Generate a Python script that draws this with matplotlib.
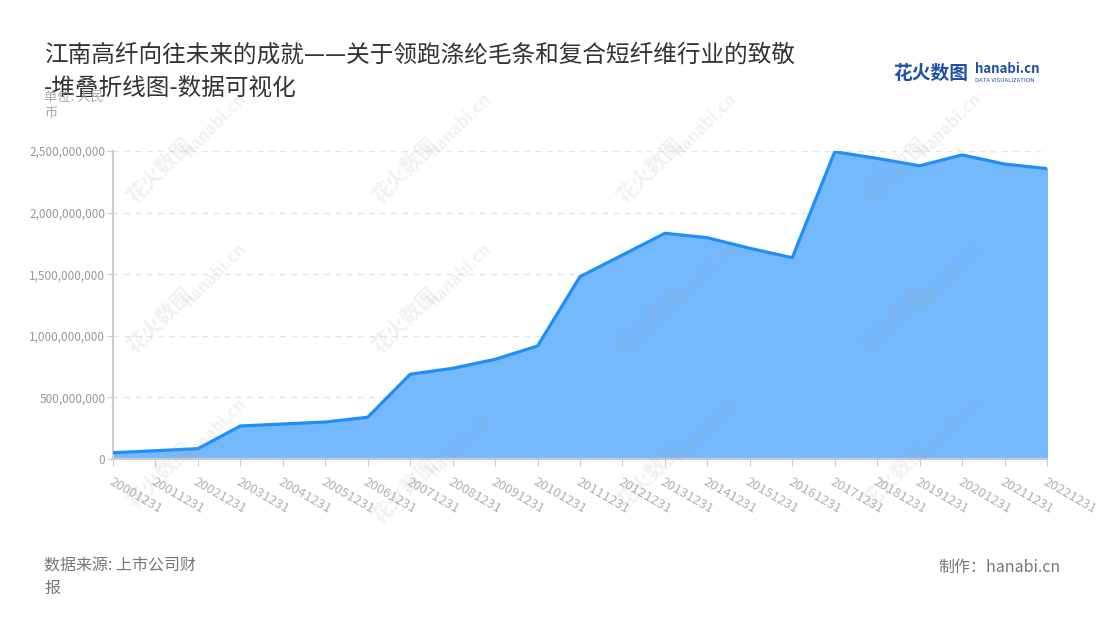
import matplotlib.pyplot as plt
import matplotlib.ticker as mticker
import numpy as np

plt.rcParams['font.family'] = ['Noto Sans CJK SC', 'DejaVu Sans']

years = ['20001231', '20011231', '20021231', '20031231', '20041231', '20051231',
         '20061231', '20071231', '20081231', '20091231', '20101231', '20111231',
         '20121231', '20131231', '20141231', '20151231', '20161231', '20171231',
         '20181231', '20191231', '20201231', '20211231', '20221231']
revenue = [51e6, 67e6, 84e6, 268e6, 284e6, 300e6, 339e6, 688e6, 736e6, 809e6,
           917e6, 1480e6, 1656e6, 1832e6, 1796e6, 1710e6, 1634e6, 2494e6,
           2440e6, 2380e6, 2468e6, 2394e6, 2357e6]
yticks = [0, 500e6, 1000e6, 1500e6, 2000e6, 2500e6]

fig = plt.figure(figsize=(11, 6.2), dpi=100)
ax = fig.add_axes([113/1100, 1-459/620, (1047-113)/1100, (459-151)/620])

x = np.arange(len(years))
ax.fill_between(x, revenue, 0, color='#74b9fd', zorder=2)
ax.plot(x, revenue, color='#1e8ff8', lw=2.3, zorder=3)

ax.set_xlim(0, len(years) - 1)
ax.set_ylim(0, 2500e6)
ax.set_yticks(yticks)
ax.yaxis.set_major_formatter(mticker.FuncFormatter(lambda v, p: f'{int(v):,}'))
ax.set_xticks(x)
ax.set_xticklabels(years, rotation=-30, ha='left', va='top', rotation_mode='anchor')
ax.tick_params(axis='x', colors='#cccccc', labelcolor='#b0b0b8', labelsize=9.5, length=5, pad=7)
ax.tick_params(axis='y', colors='#cccccc', labelcolor='#999999', labelsize=8.5, length=4, pad=1.5)
ax.grid(axis='y', ls=(0, (4, 4)), color='#e3e3e3', lw=1, zorder=1)
for s in ['top', 'right']:
    ax.spines[s].set_visible(False)
ax.spines['left'].set_color('#cccccc')
ax.spines['bottom'].set_color('#cccccc')
ax.spines['left'].set_linewidth(1.5)
ax.spines['bottom'].set_linewidth(1.5)

# watermarks
for wx, wy in [(160, 170), (405, 170), (650, 170), (895, 170),
               (160, 320), (405, 320), (650, 320), (895, 320),
               (160, 475), (405, 490), (650, 475), (895, 475)]:
    fig.text(wx/1100, 1-wy/620, '花火数图', fontsize=15, fontweight='bold',
             color='#aaaaaa', alpha=0.16, rotation=45, ha='center', va='center')
    fig.text((wx+55)/1100, 1-(wy-45)/620, 'hanabi.cn', fontsize=12, fontweight='bold',
             color='#aaaaaa', alpha=0.16, rotation=45, ha='center', va='center')

fig.text(44/1100, 1-55/620, '江南高纤向往未来的成就——关于领跑涤纶毛条和复合短纤维行业的致敬',
         fontsize=17, color='#333333', va='center')
fig.text(44/1100, 1-88/620, '-堆叠折线图-数据可视化', fontsize=17, color='#333333', va='center')
fig.text(44/1100, 1-105/620, '单位: 人民\n币', fontsize=9.5, color='#aaaaaa', va='center',
         linespacing=1.3)

# logo
fig.text(893/1100, 1-73/620, '花火数图', fontsize=13.5, fontweight='bold', color='#1f4fa8',
         va='center')
fig.text(975/1100, 1-69/620, 'hanabi.cn', fontsize=9.5, fontweight='bold', color='#1f4fa8',
         va='center')
fig.text(975/1100, 1-80/620, 'DATA VISUALIZATION', fontsize=4.3, color='#1f4fa8', va='center')

fig.text(44/1100, 1-577/620, '数据来源: 上市公司财\n报', fontsize=11.5, color='#777777',
         va='center', linespacing=1.4)
fig.text(1061/1100, 1-567/620, '制作：hanabi.cn', fontsize=11.5, color='#777777',
         va='center', ha='right')

fig.savefig('out.png', dpi=100)
